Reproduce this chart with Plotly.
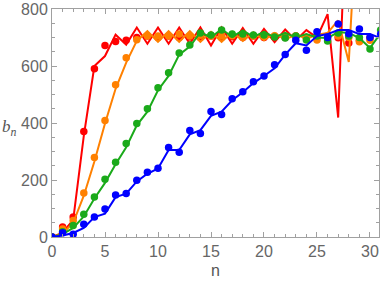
import plotly.graph_objects as go

# ---- data ----
n_dots = list(range(0, 32))
n_line = list(range(0, 32))

red_dots = [0, 35, 70, 370, 590, 672, 686, 690, 700, 705, 700, 705, 700, 702, 700, 705,
            700, 703, 700, 705, 700, 702, 700, 705, 700, 700, 705, 699, 681, 690, 700]
orange_dots = [0, 28, 58, 154, 279, 409, 534, 629, 692, 705, 705, 705, 712, 705, 708, 705,
               705, 706, 705, 705, 705, 706, 705, 705, 700, 691, 700, 705, 700, 685, 690]
green_dots = [0, 18, 40, 80, 140, 203, 262, 328, 398, 450, 524, 576, 646, 674, 716, 709,
              726, 712, 712, 709, 709, 702, 698, 705, 691, 705, 688, 716, 705, 700, 660, 726]
blue_dots = [0, 15, 10, 45, 70, 98, 147, 153, 199, 227, 241, 314, 297, 374, 363, 440,
             430, 485, 510, 545, 565, 604, 640, 690, 655, 720, 700, 747, 713, 730, 700, 712]

red_line = [0, 15, 60, 355, 600, 635, 710, 675, 735, 678, 735, 678, 735, 678, 735, 672,
            735, 678, 733, 678, 730, 684, 728, 690, 726, 700, 782, 419, 1400, 1500, 1600, 1700]
orange_line = [0, 12, 50, 145, 265, 398, 520, 612, 688, 722, 685, 722, 685, 722, 685, 720,
               685, 720, 688, 718, 690, 716, 692, 712, 695, 710, 716, 760, 614, 1300, 1500, 1600]
green_line = [0, 10, 32, 72, 135, 190, 255, 315, 392, 440, 515, 565, 640, 668, 718, 700,
              730, 702, 725, 702, 720, 700, 716, 700, 712, 700, 698, 719, 716, 698, 663, 715]
blue_line = [0, 5, 14, 32, 70, 82, 140, 152, 195, 222, 240, 305, 305, 360, 375, 425,
             440, 480, 508, 540, 565, 592, 640, 680, 672, 705, 712, 726, 726, 712, 712, 698]

x_ticks = [0, 5, 10, 15, 20, 25, 30]
y_ticks = [0, 200, 400, 600, 800]

series = [
    ("#FF0000", red_dots, red_line),
    ("#FF8000", orange_dots, orange_line),
    ("#1AAA1A", green_dots, green_line),
    ("#0000FF", blue_dots, blue_line),
]

fig = go.Figure()
for color, dots, line in series:
    fig.add_trace(go.Scatter(x=n_line[:len(line)], y=line, mode="lines",
                             line=dict(color=color, width=2), hoverinfo="skip"))
    fig.add_trace(go.Scatter(x=n_dots[:len(dots)], y=dots, mode="markers",
                             marker=dict(color=color, size=7.5), hoverinfo="skip"))

axis_common = dict(
    showgrid=False, zeroline=False, showline=True, linecolor="#A0A0A0", linewidth=1,
    mirror="ticks", ticks="inside", tickcolor="#A0A0A0", ticklen=5, tickwidth=1,
    automargin=False,
    tickfont=dict(family="Liberation Sans, Arial", size=16, color="#666666"),
)
fig.update_xaxes(range=[0, 30.85], tickvals=x_ticks,
                 minor=dict(dtick=1, tick0=0, ticks="inside", ticklen=3, tickcolor="#A0A0A0"),
                 **axis_common)
fig.update_yaxes(range=[0, 800], tickvals=y_ticks,
                 minor=dict(dtick=50, tick0=0, ticks="inside", ticklen=3, tickcolor="#A0A0A0"),
                 **axis_common)

fig.add_annotation(text="n", x=0.5, y=-0.145, xref="paper", yref="paper",
                   xanchor="center", yanchor="middle", showarrow=False,
                   font=dict(family="Liberation Sans, Arial", size=16, color="#555555"))
fig.add_annotation(text="<i>b</i><sub><i>n</i></sub>", x=-0.13, y=0.48, xref="paper", yref="paper",
                   xanchor="center", yanchor="middle", showarrow=False,
                   font=dict(family="Liberation Serif, Times New Roman", size=17, color="#555555"))

fig.update_layout(
    width=382, height=285, showlegend=False,
    margin=dict(l=52, r=3, t=9, b=48),
    plot_bgcolor="white", paper_bgcolor="white",
)
fig.write_html("out.html", config={"displayModeBar": False},
               post_script="document.body.style.margin='0';")
